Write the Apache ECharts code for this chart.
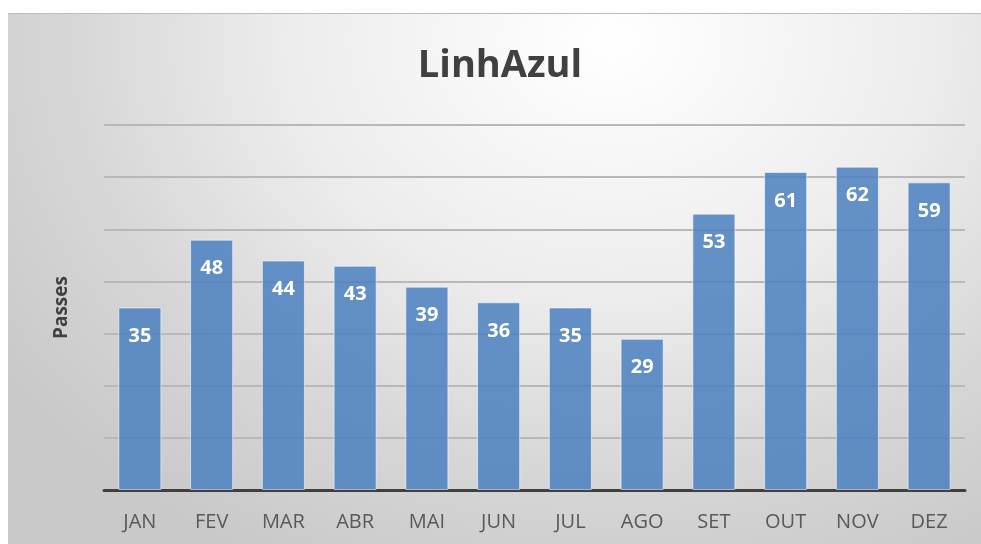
<!DOCTYPE html>
<html><head><meta charset="utf-8">
<script src="https://cdn.jsdelivr.net/npm/echarts@6/dist/echarts.min.js"></script>
<style>
html,body{margin:0;padding:0;background:#fff;width:981px;height:544px;overflow:hidden}
#frame{position:absolute;left:8px;top:13px;width:973px;height:531px;border-top:1px solid #bdbdbd;box-sizing:border-box;
background:radial-gradient(ellipse 75% 110% at 62% 5%, #ffffff 0%, #ececec 45%, #d6d6d6 75%, #c9c9c9 100%);}
#chart{position:absolute;left:0;top:0;width:981px;height:544px}
</style></head>
<body><div id="frame"></div><div id="chart"></div>
<script>
const titleText = "LinhAzul";
const yAxisName = "Passes";
const categories = ["JAN","FEV","MAR","ABR","MAI","JUN","JUL","AGO","SET","OUT","NOV","DEZ"];
const values = [35,48,44,43,39,36,35,29,53,61,62,59];

const chart = echarts.init(document.getElementById('chart'), null, {renderer:'canvas'});
chart.setOption({
  backgroundColor:'transparent',
  animation:false,
  title:{text:titleText,left:495,top:42,textAlign:'center',
    textStyle:{fontFamily:'Open Sans',fontWeight:'bold',fontSize:38,color:'#404040'}},
  grid:{left:104,right:16,top:125,bottom:54},
  xAxis:{type:'category',data:categories,
    axisLine:{lineStyle:{color:'#404040',width:3}},
    axisTick:{show:false},
    axisLabel:{color:'#595959',fontFamily:'Open Sans',fontSize:20,margin:22}},
  yAxis:{type:'value',min:0,max:70,interval:10,
    name:yAxisName,nameLocation:'middle',nameGap:33,nameRotate:90,
    nameTextStyle:{fontFamily:'Open Sans',fontWeight:'bold',fontSize:19,color:'#404040'},
    axisLabel:{show:false},axisLine:{show:false},axisTick:{show:false},
    splitLine:{lineStyle:{color:'#b8b8b8',width:2}}},
  series:[{type:'bar',data:values,barCategoryGap:'40%',
    itemStyle:{color:'rgba(74,128,192,0.86)',borderColor:'rgba(255,255,255,0.55)',borderWidth:1},
    label:{show:true,position:'insideTop',distance:19,color:'#ffffff',
      fontFamily:'Open Sans',fontWeight:'bold',fontSize:20}}]
});
</script></body></html>
